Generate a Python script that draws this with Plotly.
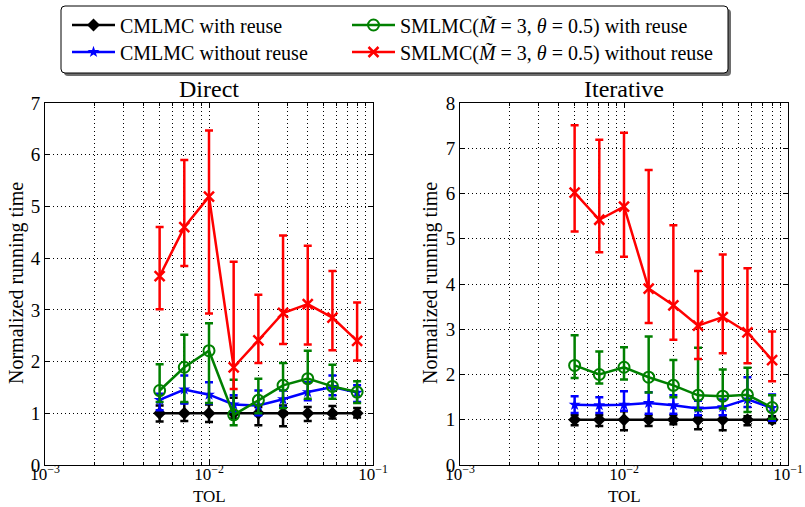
import plotly.graph_objects as go

W, H = 805, 507
FONT = "Liberation Serif"

# ---------------- data ----------------
TOL = [0.005, 0.00707, 0.01, 0.01414, 0.02, 0.02828, 0.04, 0.05657, 0.08]
tick_vals = [0.001, 0.01, 0.1]
tick_text = ["10<sup>\u22123</sup>", "10<sup>\u22122</sup>", "10<sup>\u22121</sup>"]

# Direct panel
d_cm_reuse = [1.0, 1.0, 1.0, 1.0, 1.0, 1.0, 1.0, 1.0, 1.0]
d_cm_reuse_lo = [0.84, 0.85, 0.83, 0.90, 0.77, 0.75, 0.85, 0.90, 0.92]
d_cm_reuse_hi = [1.15, 1.20, 1.17, 1.30, 1.12, 1.15, 1.12, 1.14, 1.10]

d_cm_noreuse = [1.26, 1.46, 1.36, 1.17, 1.15, 1.27, 1.41, 1.51, 1.40]
d_cm_noreuse_lo = [1.06, 1.19, 1.19, 1.03, 0.96, 1.12, 1.25, 1.35, 1.22]
d_cm_noreuse_hi = [1.38, 1.73, 1.60, 1.35, 1.44, 1.44, 1.60, 1.73, 1.54]

d_sm_reuse = [1.44, 1.89, 2.21, 0.97, 1.25, 1.54, 1.67, 1.52, 1.41]
d_sm_reuse_lo = [1.22, 1.22, 1.20, 0.77, 1.00, 1.10, 1.28, 1.28, 1.20]
d_sm_reuse_hi = [1.95, 2.52, 2.74, 1.65, 1.67, 1.97, 2.21, 1.94, 1.62]

d_sm_noreuse = [3.65, 4.60, 5.19, 1.89, 2.41, 2.94, 3.11, 2.85, 2.40]
d_sm_noreuse_lo = [3.01, 3.85, 2.93, 1.47, 1.97, 2.34, 2.33, 2.22, 2.02]
d_sm_noreuse_hi = [4.60, 5.90, 6.47, 3.93, 3.29, 4.44, 4.24, 3.75, 3.14]

# Iterative panel
i_cm_reuse = [1.0, 1.0, 1.0, 1.0, 1.0, 1.0, 1.0, 1.0, 1.0]
i_cm_reuse_lo = [0.88, 0.86, 0.77, 0.86, 0.90, 0.79, 0.77, 0.88, 0.93]
i_cm_reuse_hi = [1.10, 1.10, 1.19, 1.10, 1.10, 1.08, 1.10, 1.08, 1.08]

i_cm_noreuse = [1.33, 1.32, 1.33, 1.37, 1.32, 1.25, 1.28, 1.45, 1.26]
i_cm_noreuse_lo = [1.15, 1.15, 1.20, 1.13, 1.13, 1.10, 1.10, 1.28, 0.98]
i_cm_noreuse_hi = [1.52, 1.50, 1.63, 1.61, 1.54, 1.42, 1.45, 1.94, 1.56]

i_sm_reuse = [2.20, 2.00, 2.16, 1.94, 1.76, 1.54, 1.52, 1.55, 1.27]
i_sm_reuse_lo = [1.92, 1.80, 1.89, 1.60, 1.50, 1.21, 1.25, 1.17, 1.02]
i_sm_reuse_hi = [2.87, 2.51, 2.60, 2.84, 2.32, 2.59, 2.11, 2.15, 1.54]

i_sm_noreuse = [6.02, 5.42, 5.71, 3.90, 3.53, 3.08, 3.27, 2.93, 2.32]
i_sm_noreuse_lo = [5.16, 4.70, 4.60, 3.14, 2.77, 2.34, 2.47, 2.25, 1.85]
i_sm_noreuse_hi = [7.51, 7.19, 7.34, 6.52, 5.30, 4.29, 4.65, 4.35, 2.95]

names = [
    "CMLMC with reuse",
    "CMLMC without reuse",
    "SMLMC(<i>M\u0303</i> = 3, <i>\u03b8</i> = 0.5) with reuse",
    "SMLMC(<i>M\u0303</i> = 3, <i>\u03b8</i> = 0.5) without reuse",
]
colors = ["black", "blue", "green", "red"]
legends = ["legend", "legend2", "legend3", "legend4"]

# ---------------- helpers ----------------
def px(x):
    return x / W

def py(y):
    return 1 - y / H

markers = [
    dict(symbol="diamond", size=10, color="black"),
    dict(symbol="star", size=9, color="blue"),
    dict(symbol="circle-open", size=11, color="green", line=dict(width=2, color="green")),
    dict(symbol="x-thin-open", size=10, color="red", line=dict(width=2.5, color="red")),
]

direct = [
    (d_cm_reuse, d_cm_reuse_lo, d_cm_reuse_hi),
    (d_cm_noreuse, d_cm_noreuse_lo, d_cm_noreuse_hi),
    (d_sm_reuse, d_sm_reuse_lo, d_sm_reuse_hi),
    (d_sm_noreuse, d_sm_noreuse_lo, d_sm_noreuse_hi),
]
iterative = [
    (i_cm_reuse, i_cm_reuse_lo, i_cm_reuse_hi),
    (i_cm_noreuse, i_cm_noreuse_lo, i_cm_noreuse_hi),
    (i_sm_reuse, i_sm_reuse_lo, i_sm_reuse_hi),
    (i_sm_noreuse, i_sm_noreuse_lo, i_sm_noreuse_hi),
]

fig = go.Figure()

for panel, (series, xa, ya) in enumerate([(direct, "x", "y"), (iterative, "x2", "y2")]):
    for k in range(4):
        mean, lo, hi = series[k]
        fig.add_trace(go.Scatter(
            x=TOL, y=mean, xaxis=xa, yaxis=ya, mode="lines+markers",
            name=names[k], legend=legends[k], showlegend=(panel == 0),
            line=dict(color=colors[k], width=2.5),
            marker=markers[k],
            error_y=dict(type="data", symmetric=False,
                         array=[h - m for h, m in zip(hi, mean)],
                         arrayminus=[m - l for m, l in zip(mean, lo)],
                         color=colors[k], thickness=2.5, width=4),
        ))

# ---------------- layout ----------------
top_px, bot_px = 103, 465
L1, R1 = 45, 373
L2, R2 = 460, 788

grid_dash = "1px,3px"
common_x = dict(
    type="log", range=[-3, -1], tickvals=tick_vals, ticktext=tick_text,
    showline=True, linecolor="black", linewidth=1, mirror="ticks",
    ticks="inside", ticklen=5, tickcolor="black", ticklabelstandoff=-6,
    showgrid=True, gridcolor="black", gridwidth=1, griddash=grid_dash,
    minor=dict(dtick="D1", ticks="inside", ticklen=3, tickcolor="black",
               showgrid=True, gridcolor="black", gridwidth=1, griddash=grid_dash),
    tickfont=dict(family=FONT, size=17, color="black"), zeroline=False,
    automargin=False,
)
common_y = dict(
    showline=True, linecolor="black", linewidth=1, mirror="ticks",
    ticks="inside", ticklen=5, tickcolor="black", dtick=1,
    showgrid=True, gridcolor="black", gridwidth=1, griddash=grid_dash,
    tickfont=dict(family=FONT, size=19, color="black"), zeroline=False,
    automargin=False,
)

fig.update_layout(
    width=W, height=H, margin=dict(l=0, r=0, t=0, b=0, autoexpand=False),
    paper_bgcolor="white", plot_bgcolor="white",
    font=dict(family=FONT, color="black"),
    xaxis=dict(common_x, domain=[px(L1), px(R1)], anchor="y"),
    yaxis=dict(common_y, domain=[py(bot_px), py(top_px)], range=[0, 7], anchor="x"),
    xaxis2=dict(common_x, domain=[px(L2), px(R2)], anchor="y2"),
    yaxis2=dict(common_y, domain=[py(bot_px), py(top_px)], range=[0, 8], anchor="x2"),
)

leg_pos = [(px(67), py(25)), (px(67), py(52)), (px(347), py(25)), (px(347), py(52))]
for lg, (lx, ly) in zip(legends, leg_pos):
    fig.update_layout({lg: dict(x=lx, y=ly, xanchor="left", yanchor="middle",
                                bgcolor="rgba(0,0,0,0)", borderwidth=0,
                                font=dict(family=FONT, size=20, color="black"),
                                itemwidth=43)})

def rounded(x0, y0, x1, y1, r):
    return (f"M {px(x0 + r)},{py(y0)} L {px(x1 - r)},{py(y0)} "
            f"Q {px(x1)},{py(y0)} {px(x1)},{py(y0 + r)} L {px(x1)},{py(y1 - r)} "
            f"Q {px(x1)},{py(y1)} {px(x1 - r)},{py(y1)} L {px(x0 + r)},{py(y1)} "
            f"Q {px(x0)},{py(y1)} {px(x0)},{py(y1 - r)} L {px(x0)},{py(y0 + r)} "
            f"Q {px(x0)},{py(y0)} {px(x0 + r)},{py(y0)} Z")

fig.add_shape(type="path", xref="paper", yref="paper", path=rounded(64, 9, 731, 76, 4),
              fillcolor="rgb(110,110,110)", line=dict(width=0), layer="below")
fig.add_shape(type="path", xref="paper", yref="paper", path=rounded(61, 6, 728, 73, 4),
              fillcolor="white", line=dict(color="black", width=1), layer="below")

for cx, title in [((L1 + R1) / 2, "Direct"), ((L2 + R2) / 2, "Iterative")]:
    fig.add_annotation(x=px(cx), y=py(89), xref="paper", yref="paper", text=title,
                       showarrow=False, font=dict(family=FONT, size=24, color="black"),
                       xanchor="center", yanchor="middle")
    fig.add_annotation(x=px(cx), y=py(496), xref="paper", yref="paper", text="TOL",
                       showarrow=False, font=dict(family=FONT, size=17, color="black"),
                       xanchor="center", yanchor="middle")
for cx in [16, 430]:
    fig.add_annotation(x=px(cx), y=py(283), xref="paper", yref="paper",
                       text="Normalized running time", textangle=-90, showarrow=False,
                       font=dict(family=FONT, size=20, color="black"),
                       xanchor="center", yanchor="middle")

fig.write_html("out.html")
